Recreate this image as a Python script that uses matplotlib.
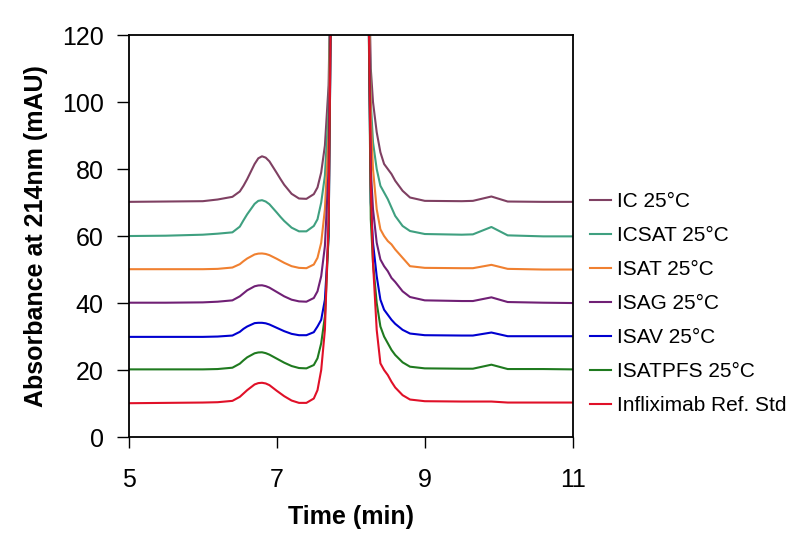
import matplotlib
matplotlib.use("Agg")
import matplotlib.pyplot as plt

plt.rcParams['font.family'] = ['Liberation Sans', 'DejaVu Sans']

# Retention time grid (min)
time = [5.0, 5.5, 6.0, 6.2, 6.4, 6.5, 6.55, 6.6, 6.7, 6.75, 6.8, 6.85, 6.9, 7.0, 7.05, 7.1, 7.2, 7.3, 7.4,
        7.5, 7.55, 7.6, 7.65, 7.7, 7.75, 8.0, 8.22, 8.27, 8.3, 8.35, 8.4, 8.45,
        8.5, 8.55, 8.6, 8.7, 8.8, 9.0, 9.5, 9.65, 9.9, 10.12, 10.6, 11.0]

ic = [70.2, 70.3, 70.4, 70.9, 71.7, 73.3, 75.0, 77.0, 81.5, 83.2, 83.8, 83.4, 82.3, 78.8, 77.0, 75.3, 72.6, 71.2, 71.1,
      72.5, 74.5, 79, 87, 105, 170, 1000, 170, 110, 100, 91, 85, 81.5,
      80, 78.5, 76.5, 73.5, 71.5, 70.5, 70.4, 70.5, 71.8, 70.3, 70.2, 70.2]
icsat = [60.0, 60.1, 60.4, 60.7, 61.1, 62.8, 64.7, 66.5, 69.6, 70.5, 70.7, 70.3, 69.5, 67.0, 65.7, 64.5, 62.5, 61.4, 61.4,
         63, 65, 70, 78, 98, 170, 1000, 170, 100, 88, 80, 75, 73,
         71, 68.5, 66, 63, 61.5, 60.6, 60.4, 60.5, 62.7, 60.2, 59.9, 59.9]
isat = [50.1, 50.1, 50.1, 50.2, 50.6, 51.6, 52.5, 53.3, 54.5, 54.75, 54.8, 54.65, 54.3, 53.2, 52.6, 52.0, 51.0, 50.5, 50.4,
        51.5, 53.5, 58, 68, 90, 170, 1000, 170, 95, 80, 68, 62, 60,
        58.5, 57.5, 56, 53.5, 51, 50.5, 50.4, 50.4, 51.4, 50.2, 50.0, 50.0]
isag = [40.1, 40.1, 40.2, 40.4, 40.8, 42.0, 42.9, 43.8, 45.0, 45.25, 45.3, 45.05, 44.6, 43.3, 42.65, 42.0, 41.0, 40.5, 40.4,
        41.5, 43.5, 48, 57, 80, 170, 1000, 170, 80, 68, 58, 53, 51,
        49.5, 47.5, 46.3, 43.5, 41.8, 40.8, 40.6, 40.6, 41.7, 40.3, 40.1, 40.0]
isav = [29.9, 29.9, 29.9, 30.0, 30.3, 31.4, 32.3, 33.0, 34.0, 34.1, 34.1, 33.95, 33.6, 32.6, 32.1, 31.6, 30.8, 30.4, 30.4,
        31.3, 33, 35, 41, 60, 170, 1000, 170, 70, 58, 48, 41, 38,
        36.5, 35, 33.8, 32, 30.9, 30.4, 30.3, 30.3, 31.2, 30.1, 30.1, 30.1]
isatpfs = [20.2, 20.2, 20.2, 20.3, 20.7, 21.9, 22.9, 23.8, 25.0, 25.25, 25.3, 25.05, 24.6, 23.4, 22.8, 22.2, 21.2, 20.6, 20.5,
           21.5, 23.5, 28, 36, 60, 170, 1000, 170, 65, 52, 40, 33, 30,
           28, 26, 24.5, 22.3, 21, 20.5, 20.4, 20.4, 21.6, 20.3, 20.3, 20.2]
infliximab = [10.1, 10.2, 10.3, 10.4, 10.8, 12.0, 13.0, 14.0, 15.7, 16.1, 16.2, 16.0, 15.5, 13.8, 13.0, 12.2, 10.9, 10.2, 10.2,
              11.5, 14, 20, 32, 65, 170, 1000, 170, 75, 52, 32, 22, 20,
              18.5, 16.5, 14.8, 12.5, 11.2, 10.7, 10.6, 10.6, 10.6, 10.3, 10.3, 10.3]

labels = ["IC 25°C", "ICSAT 25°C", "ISAT 25°C", "ISAG 25°C", "ISAV 25°C",
          "ISATPFS 25°C", "Infliximab Ref. Std"]
series = [ic, icsat, isat, isag, isav, isatpfs, infliximab]
colors = ["#7F4062", "#3FA080", "#F08030", "#702075", "#0000D0", "#1F7A1F", "#E01028"]

x_ticks = [5, 7, 9, 11]
y_ticks = [0, 20, 40, 60, 80, 100, 120]

fig = plt.figure(figsize=(8, 5.47), dpi=100)
ax = fig.add_axes([0.161, 0.201, 0.555, 0.735])

for vals, lab, col in zip(series, labels, colors):
    ax.plot(time, vals, color=col, lw=1.5, label=lab)

ax.set_xlim(5, 11)
ax.set_ylim(0, 120)
ax.set_xticks(x_ticks)
ax.set_yticks(y_ticks)
ax.tick_params(axis='x', direction='out', length=8, width=1, pad=14, labelsize=18)
ax.tick_params(axis='y', direction='out', length=9, width=1, pad=9, labelsize=18)
for sp in ax.spines.values():
    sp.set_linewidth(1.3)
    sp.set_color('black')

ax.set_xlabel("Time (min)", fontsize=18, fontweight='bold', labelpad=10)
ax.set_ylabel("Absorbance at 214nm (mAU)", fontsize=18, fontweight='bold', labelpad=10)

handles, labs = ax.get_legend_handles_labels()
fig.legend(handles, labs, loc='center left', bbox_to_anchor=(0.738, 0.4455),
           frameon=False, fontsize=15, handlelength=1.0, handletextpad=0.3,
           labelspacing=0.72, borderpad=0, borderaxespad=0)

fig.savefig("out.png", dpi=100)
